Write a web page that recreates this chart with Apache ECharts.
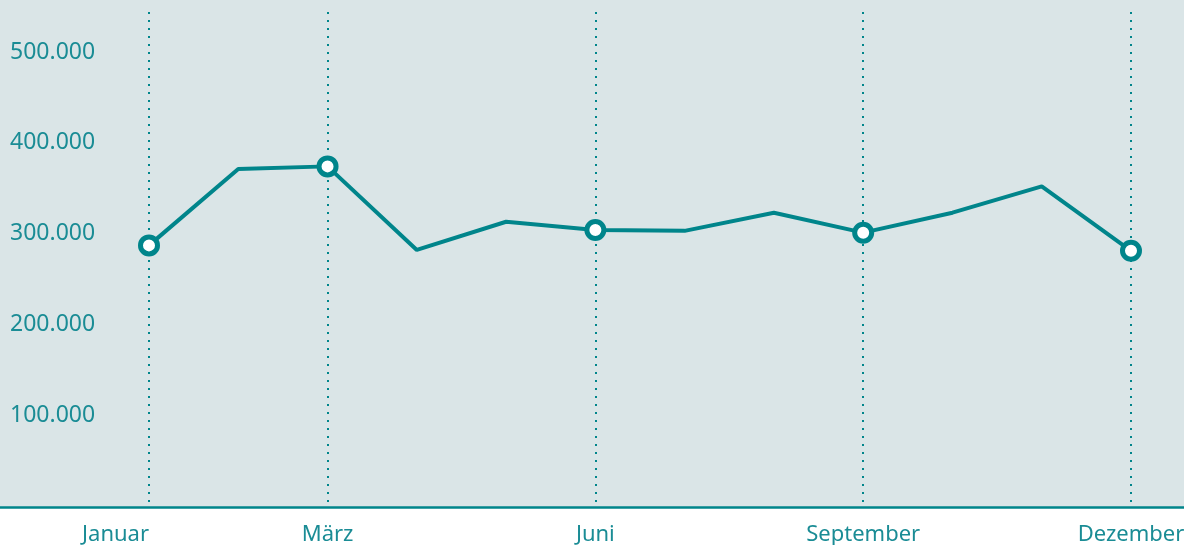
<!DOCTYPE html>
<html><head><meta charset="utf-8">
<script src="https://cdn.jsdelivr.net/npm/echarts@6/dist/echarts.min.js"></script>
<style>html,body{margin:0;padding:0;background:#fff}#c{width:1184px;height:545px}</style>
</head><body><div id="c"></div>
<script>
const months = ['Januar','Februar','März','April','Mai','Juni','Juli','August','September','Oktober','November','Dezember'];
const values = [287000, 371000, 374000, 282000, 313000, 304000, 303000, 323000, 301000, 323000, 352000, 281000];
const markedMonths = [0, 2, 5, 8, 11];
const yTicks = { min: 0, max: 544000, interval: 100000 };

const teal = '#00858b';
const textTeal = '#1a8c95';
const font = 'Noto Sans';
const isMarked = (i) => markedMonths.indexOf(i) >= 0;

const chart = echarts.init(document.getElementById('c'), null, {renderer:'canvas'});
chart.setOption({
  animation: false,
  grid: [
    {left: 0, right: 0, top: 0, bottom: 38, show: true, backgroundColor: '#dae5e7', borderWidth: 0, outerBoundsMode: 'none', containLabel: false},
    {left: 149, right: 53, top: 12, bottom: 39, outerBoundsMode: 'none', containLabel: false}
  ],
  xAxis: [
    {gridIndex: 0, type: 'value', min: 0, max: 1, axisLine: {show: true, onZero: false, lineStyle: {color: teal, width: 2.5}},
     axisTick: {show: false}, axisLabel: {show: false}, splitLine: {show: false}},
    {gridIndex: 1, type: 'category', data: months, boundaryGap: false,
     axisLine: {show: false}, axisTick: {show: false},
     axisLabel: {interval: (i) => isMarked(i), color: textTeal, fontFamily: font, fontSize: 22, margin: 18,
       alignMinLabel: 'right'},
     splitLine: {show: true, interval: (i) => isMarked(i), lineStyle: {color: teal, width: 2, type: [2, 6]}}}
  ],
  yAxis: [
    {gridIndex: 0, type: 'value', show: false},
    {gridIndex: 1, type: 'value', min: yTicks.min, max: yTicks.max, interval: yTicks.interval,
     axisLine: {show: false}, axisTick: {show: false}, splitLine: {show: false},
     axisLabel: {showMinLabel: false, showMaxLabel: false, align: 'left', margin: 139, color: textTeal, fontFamily: font, fontSize: 23,
       padding: [4, 0, 0, 0],
       formatter: (v) => v.toLocaleString('de-DE')}}
  ],
  series: [{
    type: 'line', xAxisIndex: 1, yAxisIndex: 1, data: values,
    lineStyle: {color: teal, width: 4},
    symbolSize: 17,
    showSymbol: true,
    itemStyle: {color: '#ffffff', borderColor: teal, borderWidth: 5},
    symbol: (v, p) => isMarked(p.dataIndex) ? 'circle' : 'none'
  }]
});
</script></body></html>
